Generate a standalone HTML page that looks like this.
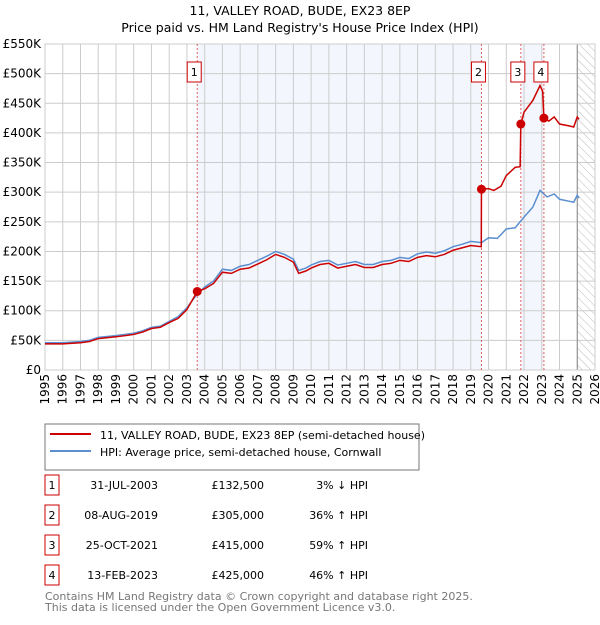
<!DOCTYPE html>
<html><head><meta charset="utf-8"><style>
body{margin:0;background:#fff;font-family:"Liberation Sans","DejaVu Sans",sans-serif;}
svg text{font-family:"DejaVu Sans","Liberation Sans",sans-serif;}
</style></head><body>
<svg id="c" width="600" height="620" viewBox="0 0 600 620" xmlns="http://www.w3.org/2000/svg">
<defs><pattern id="hatch" width="6" height="6" patternUnits="userSpaceOnUse" patternTransform="rotate(-45)"><line x1="0" y1="0" x2="0" y2="6" stroke="#bbb" stroke-width="1"/></pattern></defs>
<text x="300" y="15" text-anchor="middle" font-size="12.5">11, VALLEY ROAD, BUDE, EX23 8EP</text>
<text x="300" y="32" text-anchor="middle" font-size="12.5">Price paid vs. HM Land Registry's House Price Index (HPI)</text>
<g id="plot"></g>
<rect x="45" y="424" width="374" height="46" fill="#fff" stroke="#777"/>
<line x1="50" y1="434" x2="91" y2="434" stroke="#cc0000" stroke-width="2"/>
<text x="100" y="439" font-size="11">11, VALLEY ROAD, BUDE, EX23 8EP (semi-detached house)</text>
<line x1="50" y1="451" x2="91" y2="451" stroke="#5b8fd0" stroke-width="2"/>
<text x="100" y="456" font-size="11">HPI: Average price, semi-detached house, Cornwall</text>
<g id="table" font-size="11"></g>
<text x="45" y="600" font-size="11" fill="#777">Contains HM Land Registry data © Crown copyright and database right 2025.</text>
<text x="45" y="611" font-size="11" fill="#777">This data is licensed under the Open Government Licence v3.0.</text>
</svg>
<script>
const hpiYears=[1995,1996,1997,1997.5,1998,1999,2000,2000.5,2001,2001.5,2002,2002.5,2003,2003.5,2004,2004.5,2005,2005.5,2006,2006.5,2007,2007.5,2008,2008.5,2009,2009.3,2009.7,2010,2010.5,2011,2011.5,2012,2012.5,2013,2013.5,2014,2014.5,2015,2015.5,2016,2016.5,2017,2017.5,2018,2018.5,2019,2019.6,2020,2020.5,2021,2021.5,2022,2022.5,2022.9,2023.3,2023.7,2024,2024.5,2024.8,2025,2025.1];
const hpiValues=[46,46,48,50,55,58,62,66,72,74,82,90,105,125,140,150,170,168,175,178,185,192,200,195,187,168,172,177,183,185,177,180,183,178,178,183,185,190,188,196,199,197,201,208,212,217,215,223,222,238,240,258,275,303,292,297,288,285,283,295,290];
const priceYears=[1995,1996,1997,1997.5,1998,1999,2000,2000.5,2001,2001.5,2002,2002.5,2003,2003.58,2004,2004.5,2005,2005.5,2006,2006.5,2007,2007.5,2008,2008.5,2009,2009.3,2009.7,2010,2010.5,2011,2011.5,2012,2012.5,2013,2013.5,2014,2014.5,2015,2015.5,2016,2016.5,2017,2017.5,2018,2018.5,2019,2019.59,2019.6,2020,2020.3,2020.7,2021,2021.5,2021.78,2021.82,2022,2022.5,2022.9,2023.05,2023.12,2023.4,2023.7,2024,2024.5,2024.8,2025,2025.1];
const priceValues=[44,44,46,48,53,56,60,64,70,72,80,87,102,132.5,137,146,165,163,170,172,179,186,195,190,182,163,167,172,178,180,172,175,178,173,173,178,180,185,183,190,193,191,195,202,206,210,208,305,306,303,310,328,342,343,415,435,455,480,470,425,420,427,415,412,410,427,423];
const saleYears=[2003.58,2019.6,2021.82,2023.12];
const saleValues=[132.5,305,415,425];
const saleLabels=["1","2","3","4"];
const saleDates=["31-JUL-2003","08-AUG-2019","25-OCT-2021","13-FEB-2023"];
const salePrices=["£132,500","£305,000","£415,000","£425,000"];
const saleHpi=["3% ↓ HPI","36% ↑ HPI","59% ↑ HPI","46% ↑ HPI"];
const yTicks=[0,50,100,150,200,250,300,350,400,450,500,550];
const yTickLabels=["£0","£50K","£100K","£150K","£200K","£250K","£300K","£350K","£400K","£450K","£500K","£550K"];
const xTicks=[];for(let y=1995;y<=2026;y++)xTicks.push(y);

const X0=45,X1=595,Y0=370,Y1=44;
const x=v=>X0+(v-1995)/(2026-1995)*(X1-X0);
const y=v=>Y0-v/550*(Y0-Y1);
const NS="http://www.w3.org/2000/svg";
const plot=document.getElementById('plot');
function mk(tag,attrs,parent){const e=document.createElementNS(NS,tag);for(const k in attrs)e.setAttribute(k,attrs[k]);(parent||plot).appendChild(e);return e;}

let e;
e=mk('rect',{x:x(saleYears[0]),y:Y1,width:x(saleYears[1])-x(saleYears[0]),height:Y0-Y1,fill:'#eef2fc',opacity:0.7});


e=mk('rect',{x:x(saleYears[2]),y:Y1,width:x(saleYears[3])-x(saleYears[2]),height:Y0-Y1,fill:'#eef2fc',opacity:0.7});


e=mk('rect',{x:x(2025.0),y:Y1,width:X1-x(2025.0),height:Y0-Y1,fill:'url(#hatch)'});



yTicks.forEach((t,i)=>{
  e=mk('line',{x1:X0,x2:X1,y1:y(t),y2:y(t),stroke:'#ccc','stroke-width':1});
  
  
  e=mk('text',{x:X0-4,y:y(t)+4,'text-anchor':'end','font-size':12});
  
  
  e.textContent=yTickLabels[i];
});
xTicks.forEach(t=>{
  e=mk('line',{x1:x(t),x2:x(t),y1:Y1,y2:Y0,stroke:'#ccc','stroke-width':1});
  
  
  e=mk('text',{x:0,y:0,'font-size':12,'text-anchor':'end',transform:`translate(${x(t)+4},374) rotate(-90)`});
  
  
  e.textContent=t;
});
e=mk('line',{x1:x(2025.0),x2:x(2025.0),y1:Y1,y2:Y0,stroke:'#888','stroke-width':1});


e=mk('rect',{x:X0,y:Y1,width:X1-X0,height:Y0-Y1,fill:'none',stroke:'#ccc'});



saleYears.forEach((s,i)=>{
  e=mk('line',{x1:x(s),x2:x(s),y1:Y1,y2:Y0,stroke:'#e06060','stroke-width':1,'stroke-dasharray':'2,2'});
  
  
});

e=mk('polyline',{points:hpiYears.map((v,i)=>x(v)+','+y(hpiValues[i])).join(' '),fill:'none',stroke:'#5b8fd0','stroke-width':1.5});


e=mk('polyline',{points:priceYears.map((v,i)=>x(v)+','+y(priceValues[i])).join(' '),fill:'none',stroke:'#cc0000','stroke-width':1.5});



saleYears.forEach((s,i)=>{
  e=mk('circle',{cx:x(s),cy:y(saleValues[i]),r:4.5,fill:'#cc0000'});
  
  
  e=mk('rect',{x:x(s)-10,y:62,width:14,height:20,fill:'#fff',stroke:'#cc0000'});
  
  
  e=mk('text',{x:x(s)-3,y:76,'text-anchor':'middle','font-size':11});
  
  
  e.textContent=saleLabels[i];
});

const tbl=document.getElementById('table');
saleLabels.forEach((l,i)=>{
  const ty=483+i*30;
  e=mk('rect',{x:45,y:ty-8,width:14,height:20,fill:'#fff',stroke:'#cc0000'},tbl);
  
  
  e=mk('text',{x:52,y:ty+6,'text-anchor':'middle'},tbl);
  
  
  e.textContent=l;
  e=mk('text',{x:158,y:ty+6,'text-anchor':'end'},tbl);
  
  
  e.textContent=saleDates[i];
  e=mk('text',{x:264,y:ty+6,'text-anchor':'end'},tbl);
  
  
  e.textContent=salePrices[i];
  e=mk('text',{x:368,y:ty+6,'text-anchor':'end'},tbl);
  
  
  e.textContent=saleHpi[i];
});
</script>
</body></html>
